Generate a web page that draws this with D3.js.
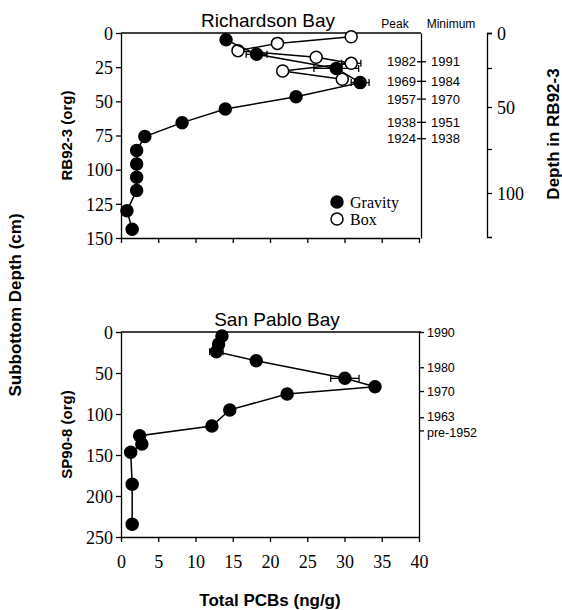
<!DOCTYPE html>
<html lang="en">
<head>
<meta charset="UTF-8">
<title>PCB depth profiles</title>
<script src="https://cdn.jsdelivr.net/npm/d3@7"></script>
<style>
  body { margin: 0; background: #fff; }
  svg text { fill: #000; }
  .domain, .tick line { stroke: #000; stroke-width: 1.3; }
</style>
</head>
<body>
<script>
// ---- data ----
// Richardson Bay, gravity core (filled): [PCB ng/g, depth cm]
const rbGravity = [
  [14.1, 5], [18.2, 15.6], [28.9, 25.9], [32.1, 36.3], [23.5, 46.6], [14.0, 55.6],
  [8.2, 65.6], [3.2, 75.8], [2.1, 86], [2.1, 95.8], [2.1, 105.6], [2.1, 115.3],
  [0.8, 130], [1.5, 143.6]
];
// Richardson Bay, box core (open)
const rbBox = [
  [30.9, 2.7], [21.0, 7.6], [15.7, 12.9], [26.2, 17.8], [30.9, 22.2], [21.7, 27.8], [29.7, 33.9]
];
// error bars [x, depth, half width]
const rbErrors = [[18.2, 15.6, 1.4], [28.9, 25.9, 3.0], [30.9, 22.2, 1.3], [32.1, 36.3, 1.2]];

// San Pablo Bay, gravity core
const spGravity = [
  [13.55, 5], [13.1, 14.6], [12.8, 24], [18.15, 35], [30.05, 56.5], [34.1, 66.7],
  [22.3, 75.6], [14.6, 95], [12.2, 114.6], [2.5, 126.4], [2.8, 136.6], [1.3, 146.7],
  [1.5, 185.7], [1.5, 234.5]
];
const spErrors = [[12.8, 24, 0.9], [30.05, 56.5, 1.9]];

// dating marks
const rbDateDepths = [20.7, 35, 48, 65, 77];
const rbPeak = ['1982', '1969', '1957', '1938', '1924'];
const rbMinimum = ['1991', '1984', '1970', '1951', '1938'];
const spDateDepths = [0, 43, 72, 104, 120];
const spDates = ['1990', '1980', '1970', '1963', 'pre-1952'];

const xTicks = [0, 5, 10, 15, 20, 25, 30, 35, 40];
const rbTicks = [0, 25, 50, 75, 100, 125, 150];
const spTicks = [0, 50, 100, 150, 200, 250];
const rb923Ticks = [0, 25, 50, 75, 100];
const rb923Labels = ['0', '', '50', '', '100'];

// ---- drawing ----
const SANS = '"Liberation Sans", Arial, sans-serif';
const SERIF = '"Liberation Serif", "Times New Roman", serif';
const width = 562, height = 610;
const svg = d3.select('body').append('svg')
  .attr('width', width).attr('height', height);

const x = d3.scaleLinear().domain([0, 40]).range([121, 419]);
const yTop = d3.scaleLinear().domain([0, 150]).range([33, 238]);
const yBot = d3.scaleLinear().domain([0, 250]).range([332, 537]);
// secondary RB92-3 depth axis is not linear against the main one
const yRB = d3.scaleLinear().domain([0, 25, 50, 75, 100, 120]).range([33, 68, 107, 149, 193, 237]);

function label(sel, family, size) {
  return sel.style('font-family', family).style('font-size', size + 'px').style('fill', '#000');
}

function panel(y, ticks, yLabel, showXLabels) {
  const gx = svg.append('g')
    .attr('transform', `translate(0,${y.range()[1]})`)
    .call(d3.axisBottom(x).tickValues(xTicks).tickSize(5).tickSizeOuter(0)
      .tickFormat(showXLabels ? d3.format('d') : ''));
  label(gx.selectAll('text'), SERIF, 18).attr('y', 31).attr('dy', 0);

  const gy = svg.append('g')
    .attr('transform', `translate(${x.range()[0]},0)`)
    .call(d3.axisLeft(y).tickValues(ticks).tickSize(5).tickSizeOuter(0));
  label(gy.selectAll('text'), SERIF, 18).attr('dy', '0.35em');

  // top frame line
  svg.append('line')
    .attr('x1', x.range()[0]).attr('x2', x.range()[1] + 2)
    .attr('y1', y.range()[0]).attr('y2', y.range()[0])
    .attr('stroke', '#000').attr('stroke-width', 1.3);

  label(svg.append('text'), SANS, 15)
    .attr('transform', `translate(72,${(y.range()[0] + y.range()[1]) / 2}) rotate(-90)`)
    .attr('text-anchor', 'middle').attr('font-weight', 'bold')
    .text(yLabel);
}

function series(data, y, filled) {
  const line = d3.line().x(d => x(d[0])).y(d => y(d[1]));
  svg.append('path').datum(data)
    .attr('d', line).attr('fill', 'none').attr('stroke', '#000').attr('stroke-width', 1.5);
  svg.append('g').selectAll('circle').data(data).join('circle')
    .attr('cx', d => x(d[0])).attr('cy', d => y(d[1])).attr('r', 6)
    .attr('fill', filled ? '#000' : '#fff').attr('stroke', '#000').attr('stroke-width', 1.5);
}

function errorBars(data, y) {
  const g = svg.append('g').attr('stroke', '#000').attr('stroke-width', 1.3);
  data.forEach(([v, d, e]) => {
    g.append('line').attr('x1', x(v - e)).attr('x2', x(v + e)).attr('y1', y(d)).attr('y2', y(d));
    [v - e, v + e].forEach(c => {
      g.append('line').attr('x1', x(c)).attr('x2', x(c)).attr('y1', y(d) - 3.5).attr('y2', y(d) + 3.5);
    });
  });
}

// ---- top panel: Richardson Bay ----
panel(yTop, rbTicks, 'RB92-3 (org)', false);
errorBars(rbErrors, yTop);
series(rbBox, yTop, false);
series(rbGravity, yTop, true);

// right frame with dating ticks
const rgTop = svg.append('g')
  .attr('transform', `translate(${x.range()[1] + 2},0)`)
  .call(d3.axisRight(yTop).tickValues(rbDateDepths).tickSize(5).tickSizeOuter(0)
    .tickFormat((d, i) => rbMinimum[i]));
rgTop.selectAll('.tick line').attr('x1', -4);
label(rgTop.selectAll('text'), SANS, 13).attr('x', 10).attr('dy', '0.35em');
label(rgTop.selectAll('.tick').append('text'), SANS, 13)
  .attr('x', -5).attr('dy', '0.35em').attr('text-anchor', 'end')
  .text((d, i) => rbPeak[i]);

label(svg.append('text'), SANS, 12).attr('x', 395).attr('y', 28)
  .attr('text-anchor', 'middle').text('Peak');
label(svg.append('text'), SANS, 12).attr('x', 451).attr('y', 28)
  .attr('text-anchor', 'middle').text('Minimum');

label(svg.append('text'), SANS, 19).attr('x', 268).attr('y', 27)
  .attr('text-anchor', 'middle').text('Richardson Bay');

// legend
const legend = svg.append('g').attr('transform', 'translate(337,202)');
[['Gravity', true], ['Box', false]].forEach(([name, filled], i) => {
  legend.append('circle').attr('cx', 0).attr('cy', i * 17).attr('r', 6)
    .attr('fill', filled ? '#000' : '#fff').attr('stroke', '#000').attr('stroke-width', 1.5);
  label(legend.append('text'), SERIF, 16).attr('x', 13).attr('y', i * 17)
    .attr('dy', '0.35em').text(name);
});

// secondary depth axis for RB92-3
const ga = svg.append('g').attr('transform', 'translate(487,0)')
  .call(d3.axisRight(yRB).tickValues(rb923Ticks).tickSize(5).tickSizeOuter(5)
    .tickFormat((d, i) => rb923Labels[i]));
label(ga.selectAll('text'), SERIF, 18).attr('x', 10).attr('dy', '0.35em');
label(svg.append('text'), SANS, 17)
  .attr('transform', 'translate(559,134) rotate(-90)')
  .attr('text-anchor', 'middle').attr('font-weight', 'bold')
  .text('Depth in RB92-3');

// ---- bottom panel: San Pablo Bay ----
panel(yBot, spTicks, 'SP90-8 (org)', true);
errorBars(spErrors, yBot);
series(spGravity, yBot, true);

const rgBot = svg.append('g')
  .attr('transform', `translate(${x.range()[1]},0)`)
  .call(d3.axisRight(yBot).tickValues(spDateDepths).tickSize(5).tickSizeOuter(0)
    .tickFormat((d, i) => spDates[i]));
label(rgBot.selectAll('text'), SANS, 12.5).attr('x', 8)
  .attr('dy', (d, i) => i === 3 ? '0.25em' : i === 4 ? '0.5em' : '0.35em');

label(svg.append('text'), SANS, 19).attr('x', 277).attr('y', 326)
  .attr('text-anchor', 'middle').text('San Pablo Bay');

// shared titles
label(svg.append('text'), SANS, 17)
  .attr('transform', 'translate(21,305) rotate(-90)')
  .attr('text-anchor', 'middle').attr('font-weight', 'bold')
  .text('Subbottom Depth (cm)');
label(svg.append('text'), SANS, 17)
  .attr('x', 270).attr('y', 606)
  .attr('text-anchor', 'middle').attr('font-weight', 'bold')
  .text('Total PCBs (ng/g)');
</script>
</body>
</html>
